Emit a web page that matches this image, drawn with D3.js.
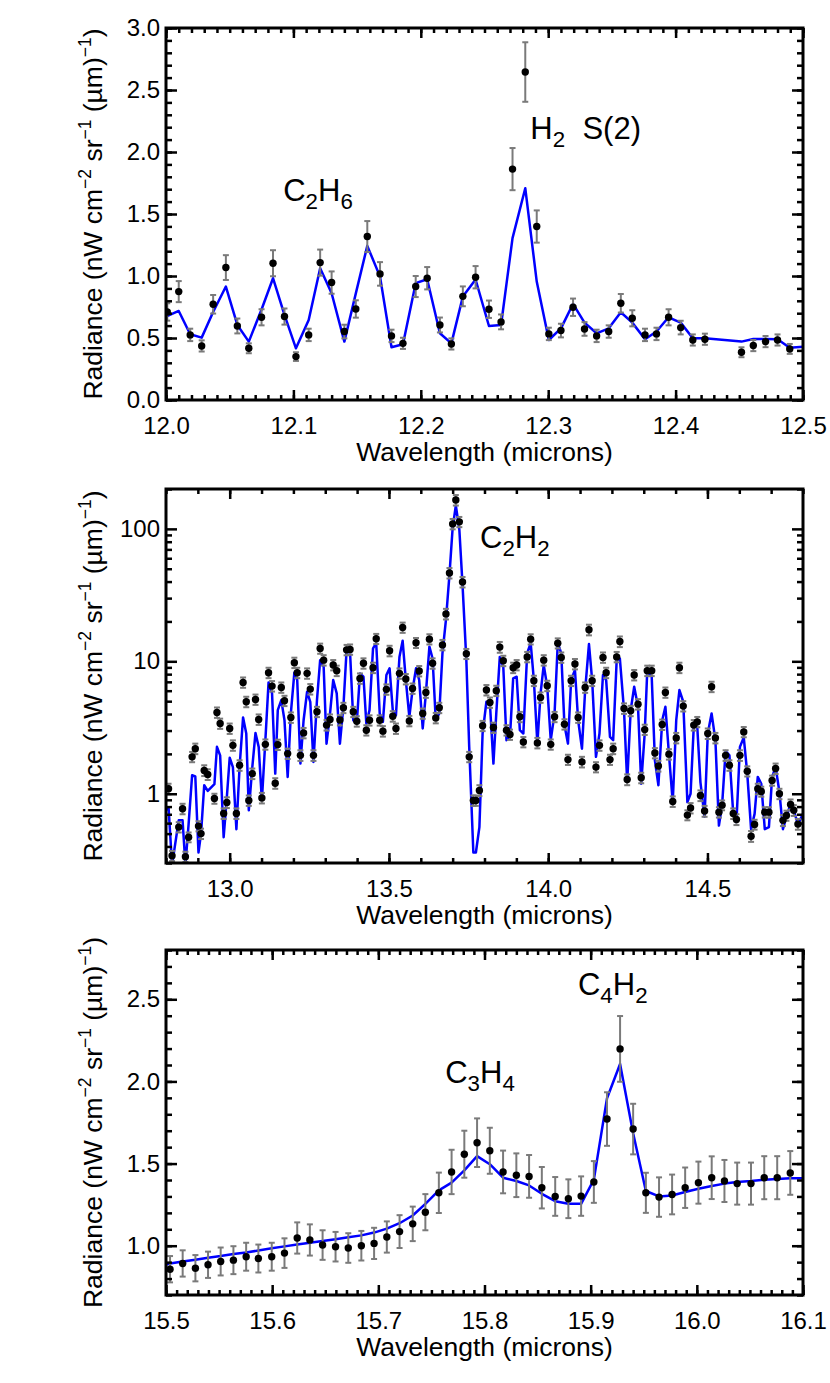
<!DOCTYPE html>
<meta charset="utf-8">
<style>

body {
  margin: 0;
  background: #fff;
}

svg text {
  font-family: "Liberation Sans", Arial, Helvetica, sans-serif;
  white-space: pre;
}

</style>

<svg width="830" height="1383"></svg>

<script src="https://d3js.org/d3.v7.min.js"></script>
<script>

// ---- panel 1 : 12.0 - 12.5 microns (C2H6, H2 S(2)) ----
var wl1 = [12.001, 12.010, 12.019, 12.028, 12.037, 12.047, 12.056, 12.065, 12.075, 12.084,
           12.093, 12.102, 12.112, 12.121, 12.130, 12.140, 12.149, 12.158, 12.168, 12.177,
           12.186, 12.196, 12.205, 12.215, 12.224, 12.233, 12.243, 12.2535, 12.263, 12.272,
           12.282, 12.291, 12.3005, 12.310, 12.3195, 12.3285, 12.338, 12.3475, 12.357, 12.366,
           12.376, 12.385, 12.3945, 12.404, 12.4135, 12.423, 12.4517, 12.461, 12.4706, 12.480,
           12.4896];
var rad1 = [0.71, 0.874, 0.525, 0.436, 0.772, 1.068, 0.597, 0.417, 0.667, 1.103,
            0.673, 0.350, 0.525, 1.108, 0.947, 0.552, 0.734, 1.318, 1.017, 0.517,
            0.457, 0.915, 0.982, 0.605, 0.452, 0.836, 0.99, 0.732, 0.630, 1.862,
            2.645, 1.399, 0.533, 0.560, 0.748, 0.573, 0.517, 0.552, 0.780, 0.659,
            0.525, 0.533, 0.667, 0.584, 0.484, 0.490, 0.385, 0.439, 0.471, 0.484,
            0.412];
var err1 = [0.07, 0.085, 0.05, 0.045, 0.075, 0.10, 0.06, 0.04, 0.065, 0.105,
            0.065, 0.035, 0.05, 0.105, 0.09, 0.055, 0.07, 0.125, 0.095, 0.05,
            0.045, 0.085, 0.09, 0.06, 0.045, 0.08, 0.09, 0.07, 0.06, 0.17,
            0.24, 0.13, 0.05, 0.055, 0.07, 0.055, 0.05, 0.05, 0.075, 0.065,
            0.05, 0.05, 0.065, 0.055, 0.045, 0.045, 0.04, 0.045, 0.045, 0.045,
            0.04];
var modelWl1 = [12.000, 12.010, 12.019, 12.028, 12.037, 12.047, 12.056, 12.065, 12.075, 12.084,
                12.093, 12.102, 12.112, 12.121, 12.130, 12.140, 12.149, 12.158, 12.168, 12.177,
                12.186, 12.196, 12.205, 12.215, 12.224, 12.233, 12.243, 12.2535, 12.263, 12.272,
                12.282, 12.291, 12.3005, 12.310, 12.3195, 12.3285, 12.338, 12.3475, 12.357, 12.366,
                12.376, 12.385, 12.3945, 12.404, 12.4135, 12.423, 12.4517, 12.461, 12.4706, 12.480,
                12.4896, 12.500];
var modelRad1 = [0.673, 0.718, 0.530, 0.503, 0.71, 0.915, 0.605, 0.471, 0.73, 0.982,
                 0.686, 0.417, 0.646, 1.063, 0.861, 0.471, 0.86, 1.243, 0.995, 0.425,
                 0.449, 0.942, 0.974, 0.538, 0.457, 0.834, 0.972, 0.597, 0.605, 1.305,
                 1.708, 0.955, 0.484, 0.578, 0.775, 0.624, 0.538, 0.578, 0.708, 0.624,
                 0.490, 0.552, 0.667, 0.624, 0.498, 0.498, 0.471, 0.492, 0.492, 0.49,
                 0.422, 0.43];
var xTicks1 = [12.0, 12.1, 12.2, 12.3, 12.4, 12.5];
var yTicks1 = [0.0, 0.5, 1.0, 1.5, 2.0, 2.5, 3.0];

// ---- panel 2 : 12.8 - 14.8 microns (C2H2), log axis ----
var wl2 = [12.808, 12.819, 12.840, 12.852, 12.861, 12.871, 12.882, 12.892, 12.902, 12.910,
           12.920, 12.931, 12.952, 12.960, 12.970, 12.981, 12.991, 13.000, 13.010, 13.021,
           13.031, 13.042, 13.052, 13.060, 13.071, 13.081, 13.091, 13.101, 13.112, 13.122,
           13.133, 13.143, 13.151, 13.162, 13.172, 13.182, 13.192, 13.203, 13.212, 13.222,
           13.232, 13.243, 13.253, 13.263, 13.274, 13.284, 13.295, 13.304, 13.315, 13.325,
           13.336, 13.346, 13.357, 13.367, 13.378, 13.388, 13.399, 13.409, 13.420, 13.429,
           13.439, 13.450, 13.460, 13.471, 13.481, 13.492, 13.502, 13.512, 13.522, 13.533,
           13.543, 13.553, 13.564, 13.574, 13.585, 13.595, 13.606, 13.616, 13.627, 13.637,
           13.647, 13.658, 13.668, 13.679, 13.690, 13.700, 13.710, 13.721, 13.731, 13.743,
           13.752, 13.765, 13.773, 13.784, 13.794, 13.806, 13.817, 13.828, 13.837, 13.848,
           13.859, 13.869, 13.880, 13.890, 13.901, 13.911, 13.922, 13.934, 13.945, 13.955,
           13.966, 13.976, 13.986, 13.997, 14.008, 14.020, 14.030, 14.041, 14.051, 14.062,
           14.072, 14.084, 14.094, 14.106, 14.116, 14.128, 14.138, 14.150, 14.161, 14.172,
           14.182, 14.194, 14.204, 14.215, 14.225, 14.238, 14.248, 14.259, 14.270, 14.282,
           14.292, 14.303, 14.311, 14.325, 14.335, 14.346, 14.358, 14.368, 14.379, 14.391,
           14.402, 14.412, 14.424, 14.437, 14.447, 14.457, 14.468, 14.478, 14.491, 14.501,
           14.513, 14.525, 14.536, 14.546, 14.557, 14.569, 14.581, 14.591, 14.602, 14.614,
           14.625, 14.637, 14.648, 14.658, 14.669, 14.680, 14.693, 14.703, 14.714, 14.726,
           14.737, 14.748, 14.761, 14.771, 14.784];
var rad2 = [1.09, 0.34, 0.56, 0.77, 0.335, 0.47, 1.90, 2.19, 0.57, 0.50,
            1.50, 1.40, 0.92, 4.11, 3.39, 0.71, 0.86, 3.11, 2.32, 0.71,
            1.64, 6.93, 4.95, 0.89, 1.42, 5.15, 3.64, 0.93, 2.36, 8.20,
            6.50, 1.20, 2.35, 6.35, 5.04, 2.01, 3.77, 9.77, 8.20, 1.95,
            2.88, 8.11, 6.17, 1.95, 4.16, 12.5, 10.2, 3.30, 3.64, 9.38,
            8.50, 3.60, 4.46, 12.2, 12.3, 4.16, 3.53, 7.43, 9.66, 3.02,
            3.59, 8.95, 14.8, 3.59, 2.97, 6.14, 12.0, 3.85, 3.11, 8.11,
            18.0, 7.35, 3.55, 6.24, 13.8, 8.45, 4.04, 5.82, 14.7, 9.66,
            3.74, 4.46, 13.3, 22.8, 46.4, 109, 165, 113, 39.7, 11.4,
            1.90, 0.89, 0.89, 1.06, 3.26, 6.07, 4.89, 3.16, 6.00, 12.8,
            10.1, 3.02, 2.80, 8.95, 9.38, 3.81, 2.46, 10.8, 14.7, 7.14,
            2.42, 5.34, 10.2, 6.54, 2.36, 3.81, 13.7, 10.7, 3.35, 1.81,
            7.14, 9.55, 3.77, 1.74, 6.35, 17.3, 7.14, 1.59, 2.32, 10.7,
            8.20, 1.81, 2.19, 10.8, 14.1, 4.41, 1.28, 4.23, 7.88, 4.75,
            1.32, 3.05, 8.50, 8.50, 2.03, 1.62, 3.33, 5.82, 1.99, 0.875,
            2.64, 8.95, 4.59, 0.69, 0.78, 3.30, 3.49, 0.97, 0.74, 2.85,
            6.43, 2.64, 0.726, 0.82, 1.95, 1.64, 0.71, 0.64, 1.95, 2.93,
            1.48, 0.478, 0.586, 1.09, 1.04, 0.726, 0.726, 1.26, 1.55, 1.00,
            0.63, 0.685, 0.83, 0.75, 0.59];
var err2 = [0.10, 0.03, 0.05, 0.07, 0.03, 0.04, 0.17, 0.20, 0.05, 0.045,
            0.14, 0.13, 0.08, 0.37, 0.30, 0.065, 0.08, 0.28, 0.21, 0.065,
            0.15, 0.62, 0.45, 0.08, 0.13, 0.46, 0.33, 0.085, 0.21, 0.74,
            0.59, 0.11, 0.21, 0.57, 0.45, 0.18, 0.34, 0.88, 0.74, 0.18,
            0.26, 0.73, 0.56, 0.18, 0.37, 1.1, 0.92, 0.30, 0.33, 0.84,
            0.77, 0.32, 0.40, 1.1, 1.1, 0.37, 0.32, 0.67, 0.87, 0.27,
            0.32, 0.81, 1.3, 0.32, 0.27, 0.55, 1.1, 0.35, 0.28, 0.73,
            1.6, 0.66, 0.32, 0.56, 1.2, 0.76, 0.36, 0.52, 1.3, 0.87,
            0.34, 0.40, 1.2, 2.1, 4.2, 9.8, 15, 10, 3.6, 1.0,
            0.17, 0.08, 0.08, 0.10, 0.29, 0.55, 0.44, 0.28, 0.54, 1.2,
            0.91, 0.27, 0.25, 0.81, 0.84, 0.34, 0.22, 0.97, 1.3, 0.64,
            0.22, 0.48, 0.92, 0.59, 0.21, 0.34, 1.2, 0.96, 0.30, 0.16,
            0.64, 0.86, 0.34, 0.16, 0.57, 1.6, 0.64, 0.14, 0.21, 0.96,
            0.74, 0.16, 0.20, 0.97, 1.3, 0.40, 0.12, 0.38, 0.71, 0.43,
            0.12, 0.27, 0.77, 0.77, 0.18, 0.15, 0.30, 0.52, 0.18, 0.08,
            0.24, 0.81, 0.41, 0.06, 0.07, 0.30, 0.31, 0.09, 0.07, 0.26,
            0.58, 0.24, 0.065, 0.07, 0.18, 0.15, 0.065, 0.06, 0.18, 0.26,
            0.13, 0.045, 0.05, 0.10, 0.09, 0.065, 0.065, 0.11, 0.14, 0.09,
            0.06, 0.06, 0.075, 0.07, 0.055];
var modelWl2 = [12.80].concat(wl2, [14.80]);
var modelRad2 = [0.75,
                 0.79, 0.29, 0.63, 0.63, 0.29, 0.59, 1.38, 1.35, 0.36, 0.50,
                 1.16, 1.05, 1.18, 2.26, 1.95, 0.47, 0.94, 1.87, 1.59, 0.54,
                 1.59, 3.77, 2.85, 0.75, 1.59, 2.88, 2.26, 0.89, 2.54, 6.93,
                 5.72, 1.42, 4.28, 5.09, 3.59, 1.34, 4.04, 8.20, 7.22, 1.69,
                 3.59, 5.89, 4.95, 1.74, 5.09, 10.2, 9.10, 2.39, 4.04, 7.22,
                 5.72, 2.39, 4.54, 12.2, 11.5, 3.59, 3.39, 8.10, 7.65, 3.39,
                 4.28, 12.5, 13.7, 4.04, 3.49, 7.88, 8.85, 4.28, 3.92, 10.8,
                 14.3, 7.22, 3.81, 6.07, 8.85, 7.22, 3.11, 5.72, 12.9, 10.5,
                 3.59, 4.04, 11.5, 20.6, 45.1, 102, 150, 98.9, 37.9, 10.2,
                 2.26, 0.36, 0.36, 0.56, 2.85, 4.95, 4.81, 1.69, 4.04, 10.8,
                 9.10, 2.54, 2.69, 7.43, 7.65, 3.02, 2.85, 11.5, 13.7, 7.22,
                 2.39, 5.72, 9.38, 6.43, 2.54, 4.04, 13.7, 11.5, 3.30, 2.39,
                 7.22, 8.60, 3.59, 2.19, 6.07, 13.5, 7.22, 1.90, 2.85, 7.88,
                 7.22, 2.69, 2.54, 10.2, 10.5, 4.28, 1.22, 4.28, 6.43, 4.54,
                 1.19, 2.85, 8.50, 7.65, 1.79, 1.16, 3.59, 4.54, 2.01, 0.865,
                 3.59, 6.07, 4.95, 0.865, 1.00, 3.20, 3.20, 1.22, 0.67, 2.85,
                 4.04, 2.54, 0.575, 0.82, 2.10, 1.95, 0.705, 0.61, 2.26, 2.66,
                 1.42, 0.54, 0.705, 1.34, 1.19, 0.54, 0.56, 1.34, 1.59, 1.03,
                 0.54, 0.67, 0.84, 0.75, 0.59,
                 0.705];
var xTicks2 = [13.0, 13.5, 14.0, 14.5];
var yTicks2 = [1, 10, 100];

// ---- panel 3 : 15.5 - 16.1 microns (C3H4, C4H2) ----
var wl3 = [15.5038, 15.5157, 15.5277, 15.5396, 15.5515, 15.5635, 15.5755, 15.587, 15.5996, 15.6116,
           15.6236, 15.6355, 15.6475, 15.6597, 15.6717, 15.684, 15.696, 15.708, 15.72, 15.7324,
           15.7443, 15.757, 15.769, 15.781, 15.793, 15.805, 15.8175, 15.830, 15.842, 15.854,
           15.8666, 15.879, 15.891, 15.903, 15.9154, 15.9277, 15.94, 15.952, 15.9644, 15.9767,
           15.989, 16.0015, 16.014, 16.026, 16.038, 16.051, 16.0635, 16.0757, 16.088];
var rad3 = [0.857, 0.892, 0.863, 0.884, 0.904, 0.912, 0.933, 0.922, 0.933, 0.955,
            1.047, 1.035, 1.004, 0.994, 0.986, 1.0, 1.014, 1.053, 1.086, 1.133,
            1.204, 1.322, 1.449, 1.557, 1.627, 1.578, 1.449, 1.429, 1.422, 1.353,
            1.30, 1.286, 1.302, 1.388, 1.771, 2.198, 1.71, 1.322, 1.296, 1.312,
            1.353, 1.384, 1.414, 1.394, 1.378, 1.378, 1.414, 1.414, 1.443];
var err3 = [0.08, 0.08, 0.08, 0.08, 0.085, 0.085, 0.085, 0.085, 0.085, 0.09,
            0.095, 0.095, 0.09, 0.09, 0.09, 0.09, 0.095, 0.095, 0.10, 0.105,
            0.11, 0.123, 0.135, 0.143, 0.148, 0.14, 0.13, 0.133, 0.13, 0.126,
            0.118, 0.118, 0.12, 0.127, 0.163, 0.20, 0.154, 0.122, 0.12, 0.121,
            0.123, 0.128, 0.13, 0.128, 0.128, 0.128, 0.131, 0.131, 0.133];
var modelWl3 = [15.5].concat(wl3, [16.1]);
var modelRad3 = [0.885,
                 0.892, 0.904, 0.914, 0.927, 0.937, 0.949, 0.959, 0.971, 0.984, 0.996,
                 1.008, 1.018, 1.029, 1.039, 1.051, 1.063, 1.08, 1.104, 1.137, 1.184,
                 1.255, 1.337, 1.384, 1.459, 1.545, 1.496, 1.414, 1.394, 1.367, 1.316,
                 1.271, 1.255, 1.255, 1.402, 1.898, 2.106, 1.684, 1.333, 1.30, 1.306,
                 1.327, 1.347, 1.363, 1.378, 1.388, 1.394, 1.402, 1.406, 1.41,
                 1.41];
var xTicks3 = [15.5, 15.6, 15.7, 15.8, 15.9, 16.0, 16.1];
var yTicks3 = [1.0, 1.5, 2.0, 2.5];

// molecule labels: [pieces, wavelength, radiance] at the text's left baseline
var labels1 = [[[["C"], ["2", "sub"], ["H"], ["6", "sub"]], 12.092, 1.605],
               [[["H"], ["2", "sub"], ["  S(2)"]], 12.286, 2.105]];
var labels2 = [[[["C"], ["2", "sub"], ["H"], ["2", "sub"]], 13.786, 71.7]];
var labels3 = [[[["C"], ["3", "sub"], ["H"], ["4", "sub"]], 15.763, 1.99],
               [[["C"], ["4", "sub"], ["H"], ["2", "sub"]], 15.888, 2.526]];

var svg = d3.select("svg");
var left = 166, right = 803;
var FONT = '"Liberation Sans", Arial, Helvetica, sans-serif';
var fmt1 = d3.format(".1f");

var yTitle = [["Radiance (nW cm"], ["\u22122", "sup"], [" sr"], ["\u22121", "sup"],
              [" (\u00b5m)"], ["\u22121", "sup"], [")"]];

var panels = [
  {top: 28, bottom: 400, xd: [12.0, 12.5], yd: [0, 3.0], log: false,
   wl: wl1, rad: rad1, err: err1, mwl: modelWl1, mrad: modelRad1,
   xMajor: xTicks1, xMinor: d3.range(1200, 1251).map(d => d / 100),
   yMajor: yTicks1, yMinor: d3.range(0, 31).map(d => d / 10),
   yFmt: fmt1, labels: labels1},
  {top: 489, bottom: 863, xd: [12.8, 14.8], yd: [0.3, 200], log: true,
   wl: wl2, rad: rad2, err: err2, mwl: modelWl2, mrad: modelRad2,
   xMajor: xTicks2, xMinor: d3.range(128, 149).map(d => d / 10),
   yMajor: yTicks2, yMinor: [0.3, 0.4, 0.5, 0.6, 0.7, 0.8, 0.9, 2, 3, 4, 5, 6, 7, 8, 9,
                             20, 30, 40, 50, 60, 70, 80, 90, 200],
   yFmt: d3.format("d"), labels: labels2},
  {top: 950, bottom: 1295, xd: [15.5, 16.1], yd: [0.7, 2.8], log: false,
   wl: wl3, rad: rad3, err: err3, mwl: modelWl3, mrad: modelRad3,
   xMajor: xTicks3, xMinor: d3.range(1550, 1611).map(d => d / 100),
   yMajor: yTicks3, yMinor: d3.range(7, 29).map(d => d / 10),
   yFmt: fmt1, labels: labels3}
];

// text with sub/superscript pieces
function richText(t, parts, size, small) {
  var shift = 0;
  parts.forEach(function(p) {
    var kind = p[1] || "";
    var target = kind == "sub" ? size * 0.27 : kind == "sup" ? -size * 0.42 : 0;
    t.append("tspan")
        .attr("dy", target - shift)
        .attr("font-size", kind ? size * small : size)
        .text(p[0]);
    shift = target;
  });
}

function axis(g, gen, scale, values, size, fmt, pad, tr) {
  var a = g.append("g")
      .attr("transform", tr)
      .call(gen(scale).tickValues(values).tickSize(-size).tickPadding(pad).tickFormat(fmt));
  a.select(".domain").remove();
  a.selectAll("line").attr("stroke-width", 2.5);
  a.attr("font-size", 24).attr("font-family", FONT);
  return a;
}

panels.forEach(function(p, i) {
  var g = svg.append("g");
  var x = d3.scaleLinear().domain(p.xd).range([left, right]);
  var y = (p.log ? d3.scaleLog() : d3.scaleLinear()).domain(p.yd).range([p.bottom, p.top]);

  g.append("clipPath").attr("id", "clip" + i)
    .append("rect")
      .attr("x", left).attr("y", p.top)
      .attr("width", right - left).attr("height", p.bottom - p.top);

  var plot = g.append("g").attr("clip-path", "url(#clip" + i + ")");

  // model spectrum
  var line = d3.line().x(d => x(d[0])).y(d => y(d[1]));
  plot.append("path")
      .datum(d3.zip(p.mwl, p.mrad))
      .attr("fill", "none")
      .attr("stroke", "#0000ff")
      .attr("stroke-width", 2.5)
      .attr("stroke-linejoin", "round")
      .attr("d", line);

  // data with error bars
  var pts = p.wl.map((w, k) => ({w: w, v: p.rad[k], e: p.err[k]}));
  var eb = plot.append("g")
      .attr("stroke", "#7a7a7a")
      .attr("stroke-width", 2)
    .selectAll("g")
    .data(pts)
    .enter().append("g");
  eb.append("line")
      .attr("x1", d => x(d.w)).attr("x2", d => x(d.w))
      .attr("y1", d => y(d.v - d.e)).attr("y2", d => y(d.v + d.e));
  eb.append("line")
      .attr("x1", d => x(d.w) - 3).attr("x2", d => x(d.w) + 3)
      .attr("y1", d => y(d.v - d.e)).attr("y2", d => y(d.v - d.e));
  eb.append("line")
      .attr("x1", d => x(d.w) - 3).attr("x2", d => x(d.w) + 3)
      .attr("y1", d => y(d.v + d.e)).attr("y2", d => y(d.v + d.e));

  plot.append("g")
    .selectAll("circle")
    .data(pts)
    .enter().append("circle")
      .attr("cx", d => x(d.w))
      .attr("cy", d => y(d.v))
      .attr("r", 3.7)
      .attr("fill", "#000");

  // ticks on all four sides, pointing inwards
  var none = () => "";
  axis(g, d3.axisBottom, x, p.xMinor, 5, none, 0, "translate(0," + p.bottom + ")");
  axis(g, d3.axisBottom, x, p.xMajor, 10, fmt1, 17, "translate(0," + p.bottom + ")");
  axis(g, d3.axisTop, x, p.xMinor, 5, none, 0, "translate(0," + p.top + ")");
  axis(g, d3.axisTop, x, p.xMajor, 10, none, 0, "translate(0," + p.top + ")");
  axis(g, d3.axisLeft, y, p.yMinor, 6, none, 0, "translate(" + left + ",0)");
  axis(g, d3.axisLeft, y, p.yMajor, 11, p.yFmt, 6, "translate(" + left + ",0)");
  axis(g, d3.axisRight, y, p.yMinor, 6, none, 0, "translate(" + right + ",0)");
  axis(g, d3.axisRight, y, p.yMajor, 11, none, 0, "translate(" + right + ",0)");

  g.append("rect")
      .attr("x", left).attr("y", p.top)
      .attr("width", right - left).attr("height", p.bottom - p.top)
      .attr("fill", "none")
      .attr("stroke", "#000")
      .attr("stroke-width", 3);

  // axis titles
  g.append("text")
      .attr("x", (left + right) / 2)
      .attr("y", p.bottom + 61)
      .attr("text-anchor", "middle")
      .attr("font-size", 26.5)
      .text("Wavelength (microns)");

  var yt = g.append("text")
      .attr("transform", "translate(102," + (p.top + p.bottom) / 2 + ") rotate(-90)")
      .attr("text-anchor", "middle");
  richText(yt, yTitle, 26.5, 0.66);

  // molecule names
  p.labels.forEach(function(l) {
    var t = g.append("text")
        .attr("x", x(l[1]))
        .attr("y", y(l[2]));
    richText(t, l[0], 31, 0.72);
  });
});

</script>
